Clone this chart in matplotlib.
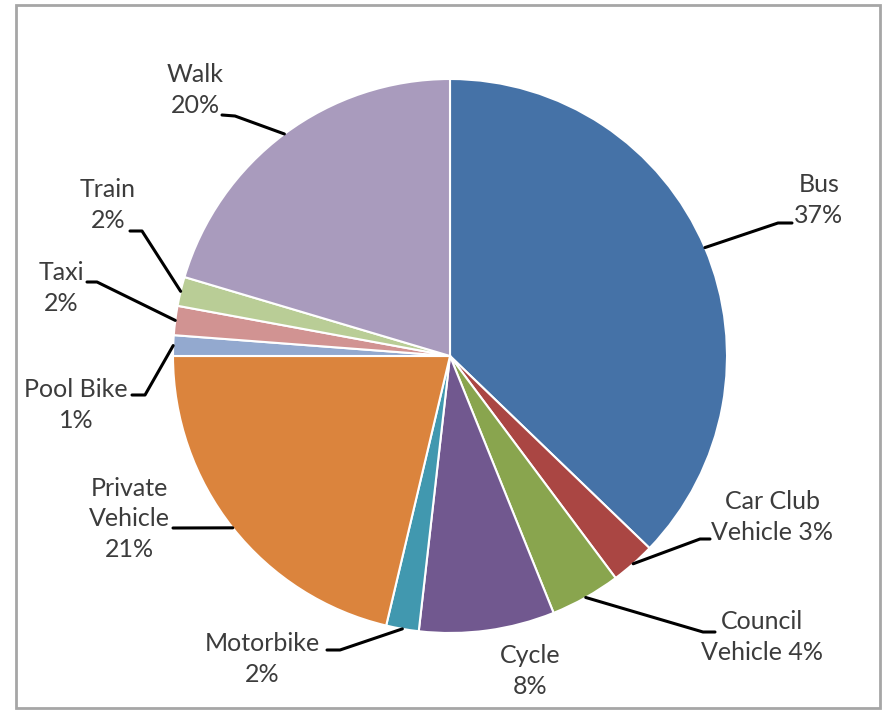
import numpy as np
import matplotlib.pyplot as plt
from matplotlib.patches import Rectangle

# Mode share data (clockwise from 12 o'clock)
modes = ["Bus", "Car Club\nVehicle", "Council\nVehicle", "Cycle", "Motorbike",
         "Private\nVehicle", "Pool Bike", "Taxi", "Train", "Walk"]
shares = [37.2, 2.6, 4.1, 7.9, 1.9, 21.3, 1.2, 1.7, 1.7, 20.4]
pct_sep = ["\n", " ", " ", "\n", "\n", "\n", "\n", "\n", "\n", "\n"]
colors = ["#4572A7", "#AA4643", "#89A54E", "#71588F", "#4198AF",
          "#DB843D", "#93A9CF", "#D19392", "#B9CD96", "#A99BBD"]

W, H = 888, 711
cx, cy, R = 450, 356, 277  # pie centre / radius in pixels

# label centres and leader points (pixels, y down)
label_pos = [(819, 200), (772, 517), (762, 637), (530, 671), (262, 659),
             (129, 519), (76, 405), (61, 288), (108, 205), (195, 90)]
leaders = [[(792, 223), (778, 223)], [(710, 539), (700, 539)],
           [(715, 632), (703, 632)], None, [(327, 650), (340, 650)],
           [(173, 528)], [(132, 395), (145, 395)], [(87, 282), (97, 282)],
           [(130, 231), (142, 231)], [(222, 115), (235, 116)]]

plt.rcParams['font.family'] = ['Lato', 'DejaVu Sans']

fig = plt.figure(figsize=(W / 100, H / 100), dpi=100)
ax = fig.add_axes([0, 0, 1, 1])

wedges, _ = ax.pie(shares, colors=colors, startangle=90, counterclock=False,
                   center=(cx, H - cy), radius=R,
                   wedgeprops=dict(edgecolor="white", linewidth=1.5))

for i, w in enumerate(wedges):
    label = modes[i] + pct_sep[i] + f"{round(shares[i])}%"
    lx, ly = label_pos[i]
    ax.text(lx, H - ly, label, ha="center", va="center", fontsize=18,
            color="#3c3c3c", linespacing=1.42)
    if leaders[i] is None:
        continue
    mid = np.deg2rad((w.theta1 + w.theta2) / 2)
    rim = (cx + R * np.cos(mid), H - cy + R * np.sin(mid))
    pts = [(x, H - y) for x, y in leaders[i]] + [rim]
    xs, ys = zip(*pts)
    ax.plot(xs, ys, color="black", linewidth=2.2, solid_capstyle="round")

# outer chart border
ax.add_patch(Rectangle((16, H - 708), 864, 703, fill=False,
                       edgecolor="#a6a6a6", linewidth=2))

ax.set_xlim(0, W)
ax.set_ylim(0, H)
ax.set_aspect("auto")
ax.axis("off")

plt.savefig("out.png", dpi=100)
